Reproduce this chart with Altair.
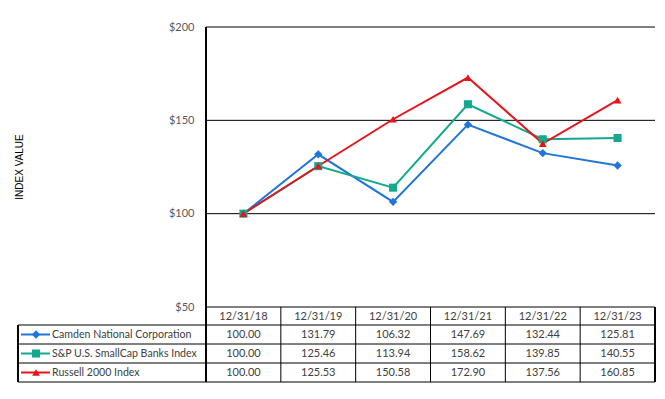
import altair as alt
import pandas as pd

dates = ["12/31/18", "12/31/19", "12/31/20", "12/31/21", "12/31/22", "12/31/23"]
series = ["Camden National Corporation", "S&P U.S. SmallCap Banks Index", "Russell 2000 Index"]
camden = [100.00, 131.79, 106.32, 147.69, 132.44, 125.81]
sp_banks = [100.00, 125.46, 113.94, 158.62, 139.85, 140.55]
russell = [100.00, 125.53, 150.58, 172.90, 137.56, 160.85]
y_ticks = [50, 100, 150, 200]

colors = ["#1F75DA", "#14A88E", "#E8141C"]
shapes = ["diamond", "square", "triangle-up"]
msizes = [70, 60, 110]

W, PH, H = 449, 280, 372
ROW_MID = [307.5, 326.5, 345.5]
FONT = "Lato"

rows = []
for s, vals in zip(series, [camden, sp_banks, russell]):
    for d, v in zip(dates, vals):
        rows.append({"series": s, "date": d, "value": v})
df = pd.DataFrame(rows)
df["row"] = df["series"].map({s: i for i, s in enumerate(series)})

def xenc(bp):
    return alt.X("date:N", sort=dates, axis=None, bandPosition=bp,
                 scale=alt.Scale(type="band", domain=dates, paddingInner=0, paddingOuter=0))

color = alt.Color("series:N", scale=alt.Scale(domain=series, range=colors), legend=None)
shape = alt.Shape("series:N", scale=alt.Scale(domain=series, range=shapes), legend=None)
size = alt.Size("series:N", scale=alt.Scale(domain=series, range=msizes), legend=None)
yscale = alt.Scale(domain=[50, 200], nice=False, zero=False, range=[PH, 0])

base = alt.Chart(df)

grid = alt.Chart(pd.DataFrame({"v": y_ticks})).mark_rule(color="black", strokeWidth=1).encode(
    y=alt.Y("v:Q", scale=yscale,
            axis=alt.Axis(values=y_ticks, labelExpr="'$' + datum.value", ticks=False,
                          domain=False, grid=False, labelColor="#595959", labelFont=FONT,
                          labelFontSize=11, labelPadding=12, title=None)),
    x=alt.value(0), x2=alt.value(W),
)

lines = base.mark_line(strokeWidth=2).encode(
    x=xenc(0.5), y=alt.Y("value:Q", scale=yscale), color=color, order=alt.Order("row:Q"),
)
points = base.mark_point(filled=True, opacity=1).encode(
    x=xenc(0.5), y=alt.Y("value:Q", scale=yscale), color=color, shape=shape, size=size,
)

date_df = pd.DataFrame({"date": dates})
header = alt.Chart(date_df).mark_text(font=FONT, fontSize=11, color="#404040", baseline="middle").encode(
    x=xenc(0.5), y=alt.value(289.5), text="date:N",
)
col_sep = alt.Chart(date_df).mark_rule(color="black", strokeWidth=1).encode(
    x=xenc(0), y=alt.value(280), y2=alt.value(355),
)
left_axis = alt.Chart(date_df).mark_rule(color="black", strokeWidth=1).encode(
    x=alt.value(0), y=alt.value(0), y2=alt.value(355))
right_border = alt.Chart(date_df).mark_rule(color="black", strokeWidth=1).encode(
    x=alt.value(W), y=alt.value(280), y2=alt.value(355))
outer_left = alt.Chart(date_df).mark_rule(color="black", strokeWidth=1).encode(
    x=alt.value(-188), y=alt.value(298), y2=alt.value(355))
hlines = alt.Chart(pd.DataFrame({"yy": [298, 317, 336, 355]})).mark_rule(color="black", strokeWidth=1).encode(
    x=alt.value(-188), x2=alt.value(W), y=alt.Y("yy:Q", scale=None))

cells = []
for i, s in enumerate(series):
    sub = df[df["series"] == s]
    cells.append(alt.Chart(sub).mark_text(font=FONT, fontSize=11, color="#404040", baseline="middle").encode(
        x=xenc(0.5), y=alt.value(ROW_MID[i]), text=alt.Text("value:Q", format=".2f"),
    ))
    sd = pd.DataFrame({"series": [s]})
    cells.append(alt.Chart(sd).mark_rule(strokeWidth=2).encode(
        x=alt.value(-185), x2=alt.value(-156), y=alt.value(ROW_MID[i]), color=color))
    cells.append(alt.Chart(sd).mark_point(filled=True, opacity=1).encode(
        x=alt.value(-170), y=alt.value(ROW_MID[i]), color=color, shape=shape, size=size))
    cells.append(alt.Chart(sd).mark_text(font=FONT, fontSize=10.6, color="#404040", align="left", baseline="middle").encode(
        x=alt.value(-154), y=alt.value(ROW_MID[i]), text="series:N"))

ytitle = alt.Chart(pd.DataFrame({"t": ["INDEX VALUE"]})).mark_text(
    font="Liberation Sans", fontSize=10, color="black", angle=270, baseline="middle", align="center"
).encode(x=alt.value(-186), y=alt.value(140), text="t:N")

chart = alt.layer(grid, lines, points, header, col_sep, left_axis, right_border, outer_left,
                  hlines, *cells, ytitle).properties(
    width=W, height=H,
    autosize=alt.AutoSizeParams(type="none"),
    padding={"left": 198, "top": 19, "right": 2, "bottom": 2},
).configure_view(stroke=None)

chart.save("out.html", embed_options={"renderer": "svg", "actions": False})
